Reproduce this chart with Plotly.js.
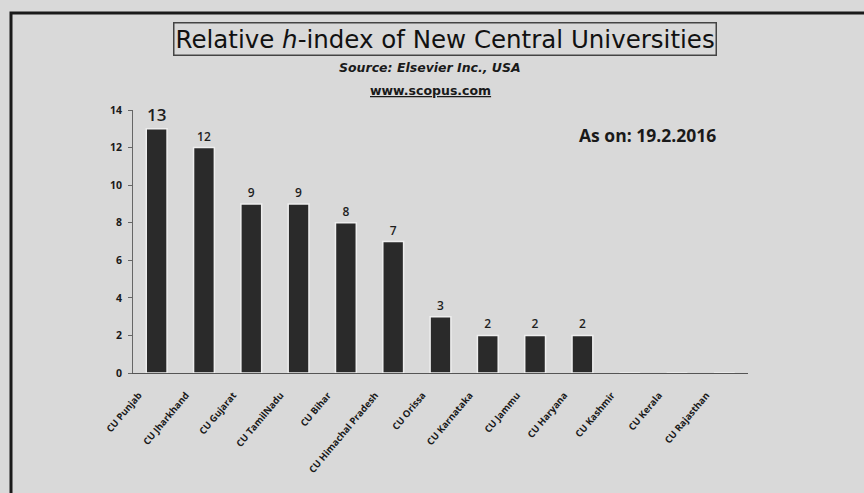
<!DOCTYPE html>
<html>
<head>
<meta charset="utf-8">
<script src="https://cdn.plot.ly/plotly-3.0.1.min.js"></script>
<style>html,body{margin:0;padding:0;background:#d9d9d9;}</style>
</head>
<body>
<div id="chart" style="width:864px;height:493px;"></div>
<script>
// Data
var universities = ["CU Punjab", "CU Jharkhand", "CU Gujarat", "CU TamilNadu", "CU Bihar",
  "CU Himachal Pradesh", "CU Orissa", "CU Karnataka", "CU Jammu", "CU Haryana",
  "CU Kashmir", "CU Kerala", "CU Rajasthan"];
var hIndex = [13, 12, 9, 9, 8, 7, 3, 2, 2, 2, 0, 0, 0];
var yTicks = [0, 2, 4, 6, 8, 10, 12, 14];

var maxV = Math.max.apply(null, hIndex);
var trace = {
  type: "bar",
  x: universities,
  y: hIndex,
  text: hIndex.map(function (v) { return v > 0 ? String(v) : ""; }),
  textposition: "outside",
  cliponaxis: false,
  textfont: {
    family: "Open Sans, sans-serif",
    color: "#1e1e1e",
    weight: 600,
    size: hIndex.map(function (v) { return v === maxV ? 17 : 12; })
  },
  marker: { color: "#2a2a2a", line: { color: "#eeeeee", width: 1.5 } },
  hoverinfo: "none"
};

var layout = {
  width: 864, height: 493,
  margin: { l: 133, r: 116, t: 110, b: 120 },
  paper_bgcolor: "#d9d9d9",
  plot_bgcolor: "rgba(0,0,0,0)",
  bargap: 0.56,
  showlegend: false,
  font: { family: "Open Sans, sans-serif", color: "#222" },
  xaxis: {
    type: "category",
    tickangle: -50,
    showline: true, linecolor: "#555", linewidth: 1,
    ticks: "", showgrid: false, zeroline: false,
    tickfont: { family: "Open Sans, sans-serif", size: 9.5, color: "#1a1a1a", weight: "bold" },
    ticklabelshift: -18,
    ticklabelstandoff: 12
  },
  yaxis: {
    range: [0, 14],
    tickvals: yTicks,
    showline: true, linecolor: "#666", linewidth: 1,
    ticks: "outside", ticklen: 4, tickcolor: "#666",
    showgrid: false, zeroline: false,
    tickfont: { family: "Open Sans, sans-serif", size: 10.5, color: "#1a1a1a", weight: "bold" },
    ticklabelstandoff: 4
  },
  shapes: [
    { type: "rect", xref: "paper", yref: "paper", xsizemode: "pixel", ysizemode: "pixel",
      xanchor: 0, yanchor: 0, x0: -122, x1: 900, y0: -130, y1: 360,
      line: { color: "#1a1a1a", width: 3 }, fillcolor: "rgba(0,0,0,0)" }
  ],
  annotations: [
    { xref: "paper", yref: "paper", x: 0.507, y: 1, yshift: 71, xanchor: "center", yanchor: "middle",
      text: "Relative <i>h</i>-index of New Central Universities", showarrow: false,
      font: { family: "DejaVu Sans, sans-serif", size: 24.5, color: "#111" },
      bordercolor: "#444", borderwidth: 1.5, borderpad: 1, bgcolor: "rgba(0,0,0,0)" },
    { xref: "paper", yref: "paper", x: 0.483, y: 1, yshift: 43, xanchor: "center", yanchor: "middle",
      text: "<b><i>Source: Elsevier Inc., USA</i></b>", showarrow: false,
      font: { family: "DejaVu Sans, sans-serif", size: 12.5, color: "#1a1a1a" } },
    { xref: "paper", yref: "paper", x: 0.483, y: 1, yshift: 20, xanchor: "center", yanchor: "middle",
      text: "<b><u>www.scopus.com</u></b>", showarrow: false,
      font: { family: "DejaVu Sans, sans-serif", size: 12.5, color: "#1a1a1a" } },
    { xref: "paper", yref: "paper", x: 0.722, y: 1, yshift: -25, xanchor: "left", yanchor: "middle",
      text: "<b>As on: 19.2.2016</b>", showarrow: false,
      font: { family: "Open Sans, sans-serif", size: 17.5, color: "#1a1a1a" } }
  ]
};

Plotly.newPlot("chart", [trace], layout, { displayModeBar: false, staticPlot: true });
</script>
</body>
</html>
